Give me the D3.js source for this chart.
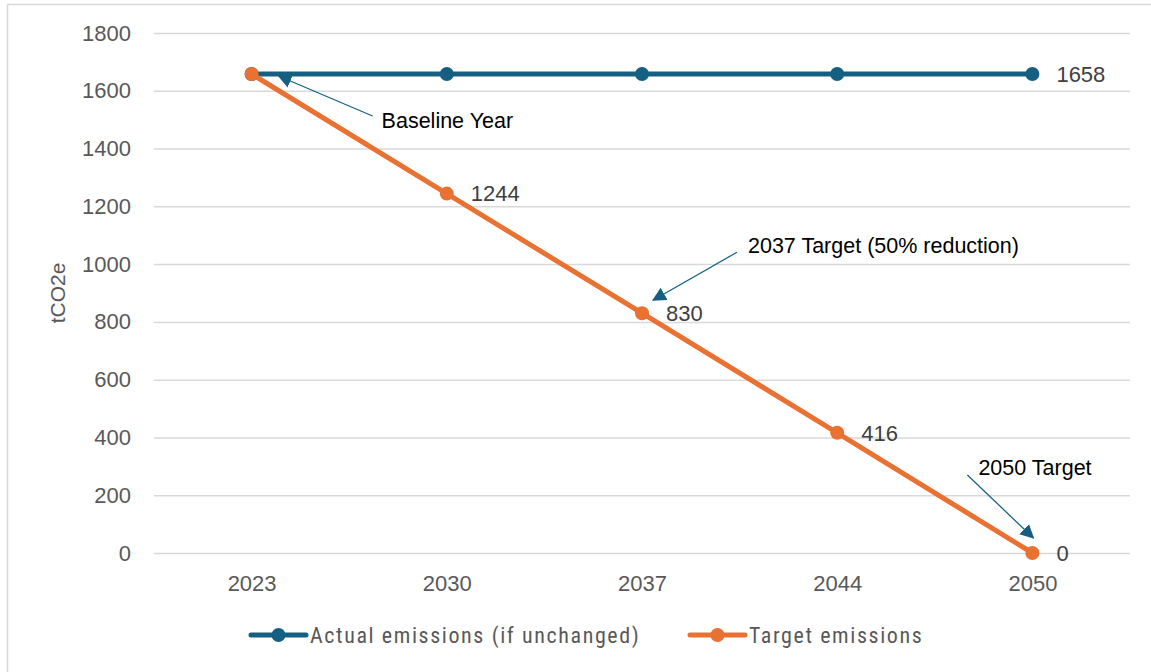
<!DOCTYPE html>
<html>
<head>
<meta charset="utf-8">
<script src="https://cdn.jsdelivr.net/npm/d3@7"></script>
<style>
  body { margin: 0; background: #fff; }
  text { font-family: "Liberation Sans", Arial, sans-serif; }
</style>
</head>
<body>
<div id="chart"></div>
<script>
// data
const years = ['2023', '2030', '2037', '2044', '2050'];
const actualEmissions = [1658, 1658, 1658, 1658, 1658];
const targetEmissions = [1658, 1244, 830, 416, 0];
const yTicks = [0, 200, 400, 600, 800, 1000, 1200, 1400, 1600, 1800];
const seriesNames = ['Actual emissions (if unchanged)', 'Target emissions'];
const annotationTexts = ['Baseline Year', '2037 Target (50% reduction)', '2050 Target'];
const annotationYears = ['2023', '2037', '2050'];
const annotationValues = [1658, 830, 0];

class LineChart {
    constructor(_config) {
        this.config = {
            parentElement: _config.parentElement,
            containerWidth: _config.containerWidth || 1151,
            containerHeight: _config.containerHeight || 672,
            margin: _config.margin || {top: 33, right: 21, bottom: 119, left: 154},
        }
        this.initVis();
    }

    initVis() {
        let vis = this;

        vis.width = vis.config.containerWidth - vis.config.margin.left - vis.config.margin.right;
        vis.height = vis.config.containerHeight - vis.config.margin.top - vis.config.margin.bottom;

        vis.xScale = d3.scalePoint()
            .domain(years)
            .range([0, vis.width])
            .padding(0.5)

        vis.yScale = d3.scaleLinear()
            .domain([0, 1800])
            .range([vis.height, 0])

        vis.svg = d3.select(vis.config.parentElement).append('svg')
            .attr('width', vis.config.containerWidth)
            .attr('height', vis.config.containerHeight)

        // chart border (only left/top visible in the crop)
        vis.svg.append('rect')
            .attr('x', 7.5).attr('y', 4.5)
            .attr('width', 1160).attr('height', 680)
            .attr('fill', 'none')
            .attr('stroke', '#d9d9d9')
            .attr('stroke-width', 1.5)

        vis.svg.append('defs').append('marker')
            .attr('id', 'arrow')
            .attr('viewBox', '0 0 12 12')
            .attr('refX', 11).attr('refY', 6)
            .attr('markerWidth', 14).attr('markerHeight', 16)
            .attr('markerUnits', 'userSpaceOnUse')
            .attr('orient', 'auto')
            .append('path')
            .attr('d', 'M0,0 L12,6 L0,12 Z')
            .attr('fill', '#156082')

        vis.chart = vis.svg.append('g')
            .attr('transform', `translate(${vis.config.margin.left},${vis.config.margin.top})`)

        vis.yAxisG = vis.chart.append('g')
        vis.xAxisG = vis.chart.append('g')
            .attr('transform', `translate(0,${vis.height})`)
    }

    renderVis() {
        let vis = this;

        // y axis with gridlines
        vis.yAxisG.call(d3.axisLeft(vis.yScale).tickValues(yTicks).tickFormat(d3.format('d'))
            .tickSize(-vis.width).tickPadding(23))
        vis.yAxisG.select('.domain').remove()
        vis.yAxisG.selectAll('.tick line').attr('stroke', '#d9d9d9').attr('stroke-width', 1.5)
        vis.yAxisG.selectAll('.tick text')
            .attr('fill', '#595959')
            .style('font-size', '22px')

        vis.xAxisG.call(d3.axisBottom(vis.xScale).tickSize(0).tickPadding(22))
        vis.xAxisG.select('.domain').remove()
        vis.xAxisG.selectAll('.tick text')
            .attr('fill', '#595959')
            .style('font-size', '22px')

        vis.chart.append('text')
            .attr('transform', `translate(${-96},${vis.height / 2}) rotate(-90)`)
            .attr('text-anchor', 'middle')
            .attr('dy', '0.35em')
            .attr('fill', '#595959')
            .style('font-size', '21px')
            .text('tCO2e')

        // annotations (drawn below the series)
        const offsets = [
            {sx: 121, sy: 42, tx: 27, ty: 2, lx: 130, ly: 46},
            {sx: 95, sy: -61, tx: 11, ty: -13, lx: 106, ly: -68},
            {sx: -65, sy: -78, tx: 1, ty: -15, lx: -54, ly: -86},
        ]
        annotationTexts.forEach((t, i) => {
            const px = vis.xScale(annotationYears[i]);
            const py = vis.yScale(annotationValues[i]);
            const o = offsets[i];
            vis.chart.append('line')
                .attr('x1', px + o.sx).attr('y1', py + o.sy)
                .attr('x2', px + o.tx).attr('y2', py + o.ty)
                .attr('stroke', '#156082')
                .attr('stroke-width', 1.25)
                .attr('marker-end', 'url(#arrow)')
            vis.chart.append('text')
                .attr('x', px + o.lx).attr('y', py + o.ly)
                .attr('dy', '0.35em')
                .attr('fill', '#000')
                .style('font-size', '21.5px')
                .text(t)
        })

        const series = [
            {values: actualEmissions, color: '#156082'},
            {values: targetEmissions, color: '#e97132'},
        ]
        const line = d3.line()
            .x((d, i) => vis.xScale(years[i]))
            .y(d => vis.yScale(d))

        series.forEach(s => {
            vis.chart.append('path')
                .datum(s.values)
                .attr('d', line)
                .attr('fill', 'none')
                .attr('stroke', s.color)
                .attr('stroke-width', 5)
                .attr('stroke-linejoin', 'round')
            vis.chart.selectAll(null)
                .data(s.values)
                .join('circle')
                .attr('cx', (d, i) => vis.xScale(years[i]))
                .attr('cy', d => vis.yScale(d))
                .attr('r', 7)
                .attr('fill', s.color)
        })

        // data labels: last actual point, then target points after the first
        const labelled = [{year: years[4], value: actualEmissions[4]}]
            .concat(targetEmissions.slice(1).map((v, i) => ({year: years[i + 1], value: v})))
        vis.chart.selectAll('.label')
            .data(labelled)
            .join('text')
            .attr('class', 'label')
            .attr('x', d => vis.xScale(d.year) + 24)
            .attr('y', d => vis.yScale(d.value))
            .attr('dy', '0.35em')
            .attr('fill', '#404040')
            .style('font-size', '22px')
            .text(d => d.value)

        // legend
        const legendX = [251 - vis.config.margin.left, 690 - vis.config.margin.left];
        const legend = vis.chart.selectAll('.legend')
            .data(seriesNames)
            .join('g')
            .attr('class', 'legend')
            .attr('transform', (d, i) => `translate(${legendX[i]},${vis.height + 82})`)
        legend.append('line')
            .attr('x1', 0).attr('x2', 55)
            .attr('stroke', (d, i) => series[i].color)
            .attr('stroke-width', 5)
            .attr('stroke-linecap', 'round')
        legend.append('circle')
            .attr('cx', 27.5).attr('r', 7)
            .attr('fill', (d, i) => series[i].color)
        legend.append('text')
            .attr('x', 59)
            .attr('dy', '0.35em')
            .attr('fill', '#595959')
            .style('font-family', '"Liberation Sans Narrow", "Roboto Condensed", sans-serif')
            .style('font-size', '22px')
            .style('letter-spacing', '1.6px')
            .text(d => d)
    }
}

const chart = new LineChart({parentElement: '#chart'});
chart.renderVis();
</script>
</body>
</html>
